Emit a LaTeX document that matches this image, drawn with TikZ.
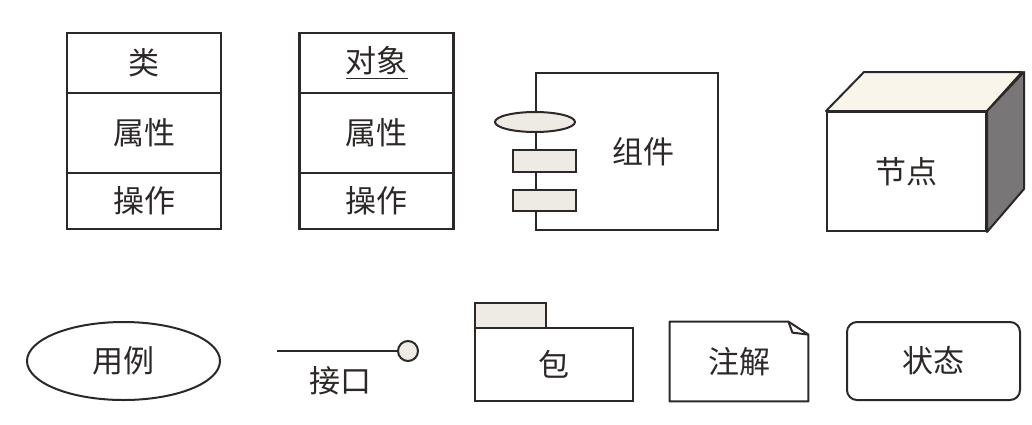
\documentclass[tikz,border=0pt]{standalone}
\usepackage{fontspec}
\usepackage{tikz}
\usetikzlibrary{positioning,shapes.geometric}
\newfontfamily\cjk{Noto Sans CJK SC}
\definecolor{umlline}{RGB}{45,40,40}
\definecolor{portfill}{RGB}{238,234,228}
\definecolor{topfill}{RGB}{250,245,234}
\definecolor{sidefill}{RGB}{120,118,118}

\begin{document}
\begin{tikzpicture}[x=0.5pt,y=-0.5pt]
\tikzstyle{every node}=[font=\cjk\fontsize{15.5}{18}\selectfont,text=umlline,inner sep=0pt]
\tikzstyle{box}=[draw=umlline,line width=1.2pt,rectangle,outer sep=0pt,minimum width=77pt]
\tikzstyle{shp}=[draw=umlline,line width=1pt]
\tikzstyle{port}=[shp,fill=portfill]

\useasboundingbox (0,0) rectangle (1032,424);

\node[box,minimum height=30pt] (cls) at (144,63) {类};
\node[box,minimum height=40pt,below=0pt of cls] (clsattr) {属性};
\node[box,minimum height=28pt,below=0pt of clsattr] (clsop) {操作};

\node[box,minimum height=30pt] (obj) at (376.5,63) {\underline{对象}};
\node[box,minimum height=40pt,below=0pt of obj] (objattr) {属性};
\node[box,minimum height=28pt,below=0pt of objattr] (objop) {操作};

\node[shp,minimum width=91pt,minimum height=78.5pt] (comp) at (627,151.5) {};
\node (comptext) at (643,152) {组件};
\node[port,ellipse,minimum width=40pt,minimum height=10pt] (compif) at (535,122) {};
\node[port,minimum width=31.5pt,minimum height=11pt] (comptop) at (544.5,161) {};
\node[port,minimum width=31.5pt,minimum height=10.5pt] (compbot) at (544.5,200.5) {};

\node[shp,minimum width=79.5pt,minimum height=59.5pt] (front) at (906.5,171.5) {节点};
\draw[shp,fill=topfill,line join=round] (front.north west) -- ++(38,-39) -- ++(158,0) -- (front.north east) -- cycle;
\draw[shp,fill=sidefill,line join=round] (front.north east) -- ++(37,-39) -- ++(0,117) -- (front.south east) -- cycle;

\node[shp,ellipse,minimum width=96.5pt,minimum height=39pt] (usecase) at (123.5,361) {用例};

\coordinate (ifend) at (277,351);
\node[shp,circle,fill=portfill,minimum size=10pt] (ifball) at (408,351) {};
\draw[shp] (ifend) -- (ifball);
\node (iftext) at (340,381) {接口};

\node[port,minimum width=35.5pt,minimum height=12.5pt] (pkgtab) at (510.5,315.5) {};
\node[shp,minimum width=79pt,minimum height=36.5pt] (pkg) at (554,364.5) {包};

\node[minimum width=69pt,minimum height=39.5pt] (note) at (739,361.5) {注解};
\draw[shp,line join=round] (note.south west) -- (note.north west) -- ([xshift=-10pt]note.north east)
  -- ([yshift=-6.5pt]note.north east) -- (note.south east) -- cycle;
\draw[shp,line join=round] ([xshift=-10pt]note.north east) -- ++(4,11) -- ([yshift=-6.5pt]note.north east);

\node[shp,rounded corners=5pt,minimum width=86.5pt,minimum height=39pt] (state) at (933.5,361) {状态};
\end{tikzpicture}
\end{document}
